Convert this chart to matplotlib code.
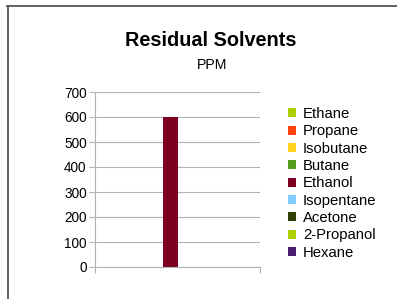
import matplotlib.pyplot as plt
from matplotlib.lines import Line2D

plt.rcParams['font.family'] = ['Liberation Sans', 'DejaVu Sans']

solvents = ['Ethane', 'Propane', 'Isobutane', 'Butane', 'Ethanol',
            'Isopentane', 'Acetone', '2-Propanol', 'Hexane']
ppm = [0, 0, 0, 0, 600, 0, 0, 0, 0]
colors = ['#aecf00', '#ff420e', '#ffd320', '#579d1c', '#7e0021',
          '#83caff', '#314004', '#aecf00', '#4b1f6f']
yticks = [0, 100, 200, 300, 400, 500, 600, 700]

fig = plt.figure(figsize=(3.97, 2.99), dpi=100, facecolor='white')
ax = fig.add_axes([95/397, 1-267/299, 165/397, 175/299])

w = 0.091
for i, (name, v, c) in enumerate(zip(solvents, ppm, colors)):
    ax.bar((i - 4) * w - 0.043, v, width=w, color=c, label=name, align='center')

ax.set_xlim(-0.5, 0.5)
ax.set_ylim(0, 700)
ax.set_yticks(yticks)
ax.set_yticklabels([str(t) for t in yticks], fontsize=9.8)
ax.set_xticks([-0.5, 0.5])
ax.set_xticklabels(['', ''])
ax.grid(axis='y', color='#b3b3b3', linewidth=0.8)
ax.set_axisbelow(True)
for s in ['top', 'right']:
    ax.spines[s].set_visible(False)
for s in ['left', 'bottom']:
    ax.spines[s].set_color('#b3b3b3')
    ax.spines[s].set_linewidth(0.8)
ax.tick_params(axis='both', color='#b3b3b3', length=4, width=0.8, pad=2)

fig.text(211/397, 1-41/299, 'Residual Solvents', ha='center', va='center',
         fontsize=14.3, fontweight='bold')
fig.text(212/397, 1-65/299, 'PPM', ha='center', va='center', fontsize=10.2)

fig.legend(loc='upper left', bbox_to_anchor=(288/397, 1-107/299), frameon=False,
           fontsize=10.7, handlelength=0.55, handleheight=0.55, handletextpad=0.45,
           labelspacing=0.225, borderpad=0, borderaxespad=0)

# outer frame (top and left edges only)
fig.add_artist(Line2D([7/397, 1], [1-5.5/299, 1-5.5/299], color='#555555', lw=1.3,
                      transform=fig.transFigure))
fig.add_artist(Line2D([7.5/397, 7.5/397], [0, 1-5.5/299], color='#555555', lw=1.3,
                      transform=fig.transFigure))

fig.savefig('out.png', dpi=100, facecolor='white')
